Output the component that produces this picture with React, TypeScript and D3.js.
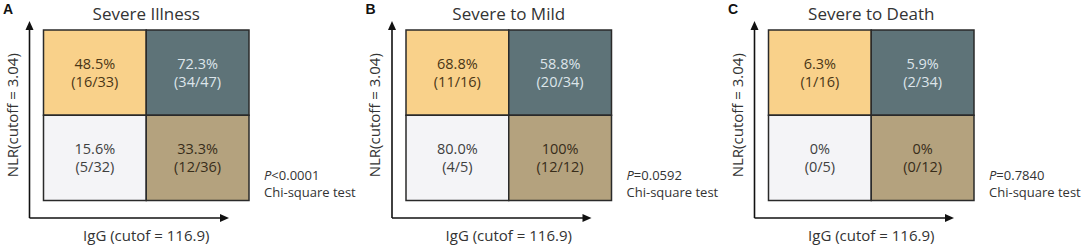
import React from "react";
import * as d3 from "d3";

const panelLetters = ["A", "B", "C"];
const titles = ["Severe Illness", "Severe to Mild", "Severe to Death"];
const pTexts = ["<0.0001", "=0.0592", "=0.7840"];
// cells order: [top-left, top-right, bottom-left, bottom-right]
const percents = [
  ["48.5%", "72.3%", "15.6%", "33.3%"],
  ["68.8%", "58.8%", "80.0%", "100%"],
  ["6.3%", "5.9%", "0%", "0%"],
];
const fractions = [
  ["(16/33)", "(34/47)", "(5/32)", "(12/36)"],
  ["(11/16)", "(20/34)", "(4/5)", "(12/12)"],
  ["(1/16)", "(2/34)", "(0/5)", "(0/12)"],
];
const igGroups = ["low", "high"];
const nlrGroups = ["high", "low"];
const xLabel = "IgG (cutof = 116.9)";
const yLabel = "NLR(cutoff = 3.04)";
const testLabel = "Chi-square test";

const fills = ["#F9D18A", "#5E7378", "#F4F4F7", "#B4A27E"];
const textColors = ["#4a3616", "#dde5ea", "#3f3f3f", "#382d1a"];

const FONT = "'Open Sans', 'Noto Sans', sans-serif";

function Panel({ i }: { i: number }) {
  const ox = i * 362.5;
  const gx0 = 43.5, gx1 = 249;
  const gy0 = 30, gy1 = 200.5;
  const x = d3.scaleBand().domain(igGroups).range([gx0, gx1]);
  const y = d3.scaleBand().domain(nlrGroups).range([gy0, gy1]);
  const cells = nlrGroups.flatMap((n) => igGroups.map((g) => ({ n, g })));
  const axX = 29.5, axY = 218, axTop = 22, axRight = 228;
  const cxMid = (gx0 + gx1) / 2;
  return (
    <g transform={`translate(${ox},0)`}>
      <text x={3} y={14} fontFamily="Arial, 'Liberation Sans', sans-serif" fontWeight="bold" fontSize={14} fill="#111">
        {panelLetters[i]}
      </text>
      <text x={cxMid} y={20} textAnchor="middle" fontFamily={FONT} fontSize={17} fill="#333">
        {titles[i]}
      </text>
      {cells.map((c, k) => {
        const cx = (x(c.g) as number) + x.bandwidth() / 2;
        const cy = (y(c.n) as number) + y.bandwidth() / 2;
        return (
          <g key={k}>
            <rect x={x(c.g)} y={y(c.n)} width={x.bandwidth()} height={y.bandwidth()} fill={fills[k]} stroke="#2a2a2a" strokeWidth={1.5} />
            <text x={cx} y={cy - 3.5} textAnchor="middle" fontFamily={FONT} fontWeight={500} fontSize={14.5} fill={textColors[k]}>
              {percents[i][k]}
            </text>
            <text x={cx} y={cy + 14} textAnchor="middle" fontFamily={FONT} fontWeight={500} fontSize={14.5} fill={textColors[k]}>
              {fractions[i][k]}
            </text>
          </g>
        );
      })}
      {/* axes */}
      <line x1={axX} y1={axY} x2={axX} y2={axTop + 6} stroke="#111" strokeWidth={1.6} />
      <path d={`M${axX - 4},${axTop + 8} L${axX},${axTop - 1} L${axX + 4},${axTop + 8} Z`} fill="#111" />
      <line x1={axX} y1={axY} x2={axRight - 6} y2={axY} stroke="#111" strokeWidth={1.6} />
      <path d={`M${axRight - 8},${axY - 4} L${axRight + 1},${axY} L${axRight - 8},${axY + 4} Z`} fill="#111" />
      <text x={cxMid} y={241} textAnchor="middle" fontFamily={FONT} fontSize={15} fill="#333">
        {xLabel}
      </text>
      <text transform={`translate(17.5,${(gy0 + gy1) / 2}) rotate(-90)`} textAnchor="middle" fontFamily={FONT} fontSize={15} fill="#333">
        {yLabel}
      </text>
      <text x={264} y={180} fontFamily={FONT} fontSize={13} fill="#333">
        <tspan fontStyle="italic">P</tspan>
        {pTexts[i]}
      </text>
      <text x={264} y={197} fontFamily={FONT} fontSize={13} fill="#333">
        {testLabel}
      </text>
    </g>
  );
}

export default function App() {
  return (
    <svg width={1084} height={247} style={{ display: "block", position: "absolute", left: 0, top: 0, background: "#fff" }}>
      <rect width={1084} height={247} fill="#fff" />
      {[0, 1, 2].map((i) => (
        <Panel key={i} i={i} />
      ))}
    </svg>
  );
}
